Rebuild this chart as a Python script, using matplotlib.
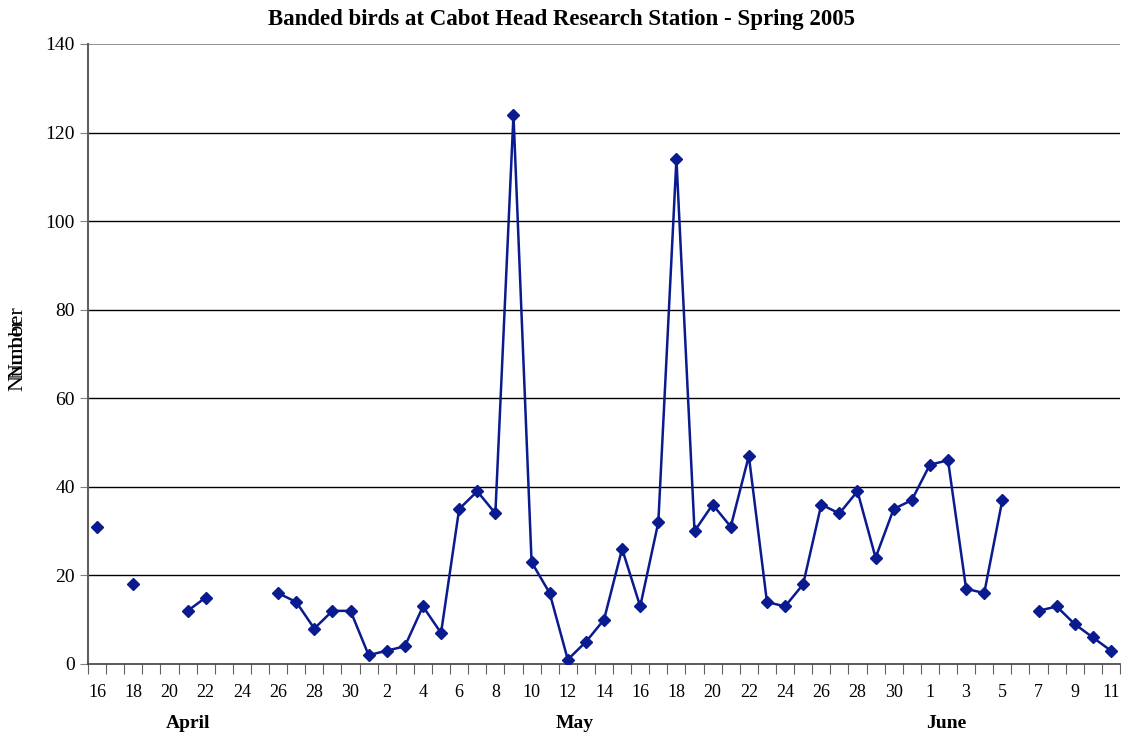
import matplotlib
matplotlib.use("Agg")
import numpy as np
import matplotlib.pyplot as plt

plt.rcParams["font.family"] = ["Liberation Serif", "DejaVu Serif"]

# days: April 16-30, May 1-31, June 1-11
days = list(range(16, 31)) + list(range(1, 32)) + list(range(1, 12))
# None = no banding that day
counts = [31, None, 18, None, None, 12, 15, None, None, None, 16, 14, 8, 12, 12,
          2, 3, 4, 13, 7, 35, 39, 34, 124, 23, 16, 1, 5, 10, 26, 13, 32, 114,
          30, 36, 31, 47, 14, 13, 18, 36, 34, 39, 24, 35, 37,
          45, 46, 17, 16, 37, None, 12, 13, 9, 6, 3]
months = ["April", "May", "June"]
month_pos = [5.0, 26.4, 46.9]

n = len(days)
x = np.arange(n)
y = np.array([np.nan if v is None else v for v in counts], dtype=float)

fig = plt.figure(figsize=(11.23, 7.33), dpi=100)
ax = fig.add_axes([88 / 1123, 69 / 733, 1032 / 1123, 620 / 733])

ax.plot(x, y, color="#0a1a8f", lw=1.8, marker="D", ms=6.5, zorder=3)

ax.set_xlim(-0.5, n - 0.5)
ax.set_ylim(0, 140)
ax.set_yticks(np.arange(0, 141, 20))
ax.tick_params(axis="y", labelsize=14, length=6, color="#808080", direction="out")
for yy in range(20, 140, 20):
    ax.axhline(yy, color="black", lw=1, zorder=1)
ax.axhline(140, color="#808080", lw=1.2, zorder=1)

# tick marks on category boundaries, labels on every other category
ax.set_xticks(np.arange(-0.5, n, 1.0))
ax.set_xticklabels([])
ax.tick_params(axis="x", length=7, color="#606060", direction="out")
for i in range(0, n, 2):
    ax.text(i, -4.5, str(days[i]), ha="center", va="top", fontsize=13)
for m, p in zip(months, month_pos):
    ax.text(p, -11.5, m, ha="center", va="top", fontsize=14, fontweight="bold")

for s in ["top", "right"]:
    ax.spines[s].set_visible(False)
ax.spines["left"].set_color("#606060")
ax.spines["left"].set_linewidth(1.5)
ax.spines["bottom"].set_color("#404040")
ax.spines["bottom"].set_linewidth(1.2)

fig.text(0.5, 0.974, "Banded birds at Cabot Head Research Station - Spring 2005",
         ha="center", va="center", fontsize=16.5, fontweight="bold")
# the y title shows up doubled in the source
fig.text(18 / 1123, 1 - 343 / 733, "Number", rotation=90, ha="center", va="center", fontsize=16)
fig.text(18 / 1123, 1 - 355 / 733, "Number", rotation=90, ha="center", va="center", fontsize=16)

fig.savefig("out.png", dpi=100)
